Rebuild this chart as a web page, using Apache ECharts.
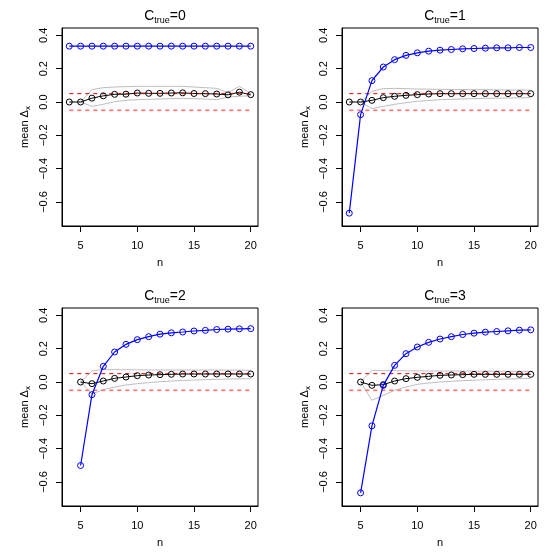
<!DOCTYPE html>
<html><head><meta charset="utf-8">
<script src="https://cdn.jsdelivr.net/npm/echarts@6/dist/echarts.min.js"></script>
<style>html,body{margin:0;padding:0;background:#fff}#c{width:560px;height:560px}</style>
</head><body><div id="c"></div>
<script>
const nA = [4,5,6,7,8,9,10,11,12,13,14,15,16,17,18,19,20];
const nB = [5,6,7,8,9,10,11,12,13,14,15,16,17,18,19,20];
const panelTitles = ['0','1','2','3'];
const xTicks = [5,10,15,20];
const yTicks = [-0.6,-0.4,-0.2,0,0.2,0.4];
const refHi = 0.05, refLo = -0.05;
const refN = [4,20];

// Panel C_true=0
const blue0 = [0.335,0.335,0.335,0.335,0.335,0.335,0.335,0.335,0.335,0.335,0.335,0.335,0.335,0.335,0.335,0.335,0.335];
const black0 = [0,0,0.023,0.037,0.046,0.047,0.054,0.052,0.052,0.054,0.055,0.051,0.05,0.048,0.043,0.059,0.044];
const bandHi0 = [0,0.074,0.086,0.09,0.092,0.094,0.094,0.094,0.094,0.094,0.09,0.086,0.082,0.056,0.094,0.05];
const bandLo0 = [0,-0.026,-0.014,0.002,0.01,0.014,0.016,0.018,0.02,0.022,0.02,0.018,0.014,0.03,0.034,0.038];
// Panel C_true=1
const blue1 = [-0.667,-0.076,0.128,0.21,0.254,0.28,0.295,0.305,0.311,0.315,0.319,0.321,0.323,0.325,0.325,0.327,0.327];
const black1 = [0,0,0.01,0.026,0.034,0.04,0.044,0.048,0.05,0.05,0.05,0.05,0.05,0.05,0.05,0.05,0.05];
const bandHi1 = [0,0.064,0.08,0.082,0.08,0.078,0.077,0.076,0.075,0.075,0.074,0.074,0.073,0.072,0.072,0.071];
const bandLo1 = [0,-0.04,-0.026,-0.014,-0.004,0.004,0.009,0.014,0.016,0.018,0.02,0.022,0.023,0.024,0.025,0.026];
// Panel C_true=2
const blue2 = [-0.501,-0.076,0.094,0.18,0.226,0.254,0.272,0.287,0.295,0.3,0.306,0.31,0.315,0.317,0.319,0.32];
const black2 = [0,-0.01,0.006,0.022,0.03,0.038,0.042,0.044,0.046,0.048,0.048,0.048,0.048,0.048,0.048,0.048];
const bandHi2 = [0,0.066,0.075,0.074,0.073,0.073,0.072,0.072,0.072,0.072,0.072,0.072,0.072,0.071,0.071,0.07];
const bandLo2 = [0,-0.072,-0.046,-0.03,-0.018,-0.01,-0.004,0.002,0.006,0.009,0.012,0.014,0.016,0.018,0.019,0.02];
// Panel C_true=3
const blue3 = [-0.665,-0.263,-0.02,0.1,0.17,0.21,0.238,0.258,0.272,0.285,0.293,0.299,0.303,0.307,0.311,0.313];
const black3 = [0,-0.02,-0.016,0.006,0.02,0.028,0.034,0.04,0.042,0.044,0.046,0.046,0.046,0.046,0.046,0.046];
const bandHi3 = [0,0.07,0.068,0.068,0.067,0.067,0.066,0.066,0.066,0.066,0.065,0.065,0.065,0.064,0.064,0.064];
const bandLo3 = [0,-0.11,-0.08,-0.05,-0.03,-0.014,-0.006,0,0.004,0.008,0.011,0.013,0.016,0.018,0.02,0.022];

const panels = [
  {n: nA, blue: blue0, black: black0, hi: bandHi0, lo: bandLo0},
  {n: nA, blue: blue1, black: black1, hi: bandHi1, lo: bandLo1},
  {n: nB, blue: blue2, black: black2, hi: bandHi2, lo: bandLo2},
  {n: nB, blue: blue3, black: black3, hi: bandHi3, lo: bandLo3}
];

const FONT = 'Liberation Sans';
const zip = (xs, ys) => xs.map((x, i) => [x, ys[i]]);
const fmt = v => (v < 0 ? '\u2212' : '') + Math.abs(v).toFixed(1);

const grids = [], xAxes = [], yAxes = [], titles = [], series = [];
panels.forEach((p, i) => {
  const ox = (i % 2) * 280, oy = Math.floor(i / 2) * 280;
  grids.push({left: ox + 62, top: oy + 28, width: 196, height: 198,
    show: true, borderColor: '#000', borderWidth: 1, backgroundColor: 'transparent', containLabel: false});
  titles.push({
    text: '{c|C}{s|true}{c|=' + panelTitles[i] + '}',
    left: ox + 160, top: oy + 2, textAlign: 'center',
    textStyle: {fontWeight: 'normal', rich: {
      c: {fontFamily: FONT, fontSize: 14, fontWeight: 'normal', color: '#000', lineHeight: 18, verticalAlign: 'middle'},
      s: {fontFamily: FONT, fontSize: 9, fontWeight: 'normal', color: '#000', lineHeight: 18, verticalAlign: 'bottom'}
    }}
  });
  xAxes.push({type: 'value', gridIndex: i, min: 3.36, max: 20.64,
    name: 'n', nameLocation: 'middle', nameGap: 31,
    nameTextStyle: {fontFamily: FONT, fontSize: 11, color: '#000'},
    axisLine: {show: true, onZero: false, lineStyle: {color: '#000', width: 1}}, splitLine: {show: false},
    axisTick: {show: true, inside: false, length: 6, customValues: xTicks, lineStyle: {color: '#000'}},
    axisLabel: {show: true, customValues: xTicks, margin: 14, fontFamily: FONT, fontSize: 11, color: '#000'}
  });
  yAxes.push({type: 'value', gridIndex: i, min: -0.744, max: 0.444,
    name: '{m|mean \u0394}{s|x}', nameLocation: 'middle', nameGap: 30, nameRotate: 90,
    nameTextStyle: {rich: {
      m: {fontFamily: FONT, fontSize: 11, color: '#000', lineHeight: 14, verticalAlign: 'middle'},
      s: {fontFamily: FONT, fontSize: 8, color: '#000', lineHeight: 14, verticalAlign: 'bottom'}
    }},
    axisLine: {show: true, onZero: false, lineStyle: {color: '#000', width: 1}}, splitLine: {show: false},
    axisTick: {show: true, inside: false, length: 6, customValues: yTicks, lineStyle: {color: '#000'}},
    axisLabel: {show: true, customValues: yTicks, rotate: 90, margin: 13, fontFamily: FONT, fontSize: 11, color: '#000', formatter: fmt}
  });
  const base = {xAxisIndex: i, yAxisIndex: i, type: 'line', animation: false, silent: true};
  series.push(Object.assign({}, base, {data: zip(nB, p.hi), showSymbol: false, symbol: 'none',
    lineStyle: {color: '#bebebe', width: 1}}));
  series.push(Object.assign({}, base, {data: zip(nB, p.lo), showSymbol: false, symbol: 'none',
    lineStyle: {color: '#bebebe', width: 1}}));
  series.push(Object.assign({}, base, {data: zip(p.n, p.black), symbol: 'circle', symbolSize: 6,
    itemStyle: {color: 'rgba(0,0,0,0)', borderColor: '#000', borderWidth: 1},
    lineStyle: {color: '#000', width: 1}}));
  series.push(Object.assign({}, base, {data: zip(refN, [refHi, refHi]), symbol: 'none',
    lineStyle: {color: '#e00000', width: 1, type: [4, 4]}}));
  series.push(Object.assign({}, base, {data: zip(refN, [refLo, refLo]), symbol: 'none',
    lineStyle: {color: '#ff7070', width: 1.6, type: [4, 4]}}));
  series.push(Object.assign({}, base, {data: zip(p.n, p.blue), symbol: 'circle', symbolSize: 6,
    itemStyle: {color: 'rgba(0,0,0,0)', borderColor: '#0000ff', borderWidth: 1},
    lineStyle: {color: '#0000ff', width: 1.2}}));
});

const chart = echarts.init(document.getElementById('c'), null, {renderer: 'canvas'});
chart.setOption({animation: false, backgroundColor: '#fff', title: titles, grid: grids, xAxis: xAxes, yAxis: yAxes, series: series});
</script></body></html>
